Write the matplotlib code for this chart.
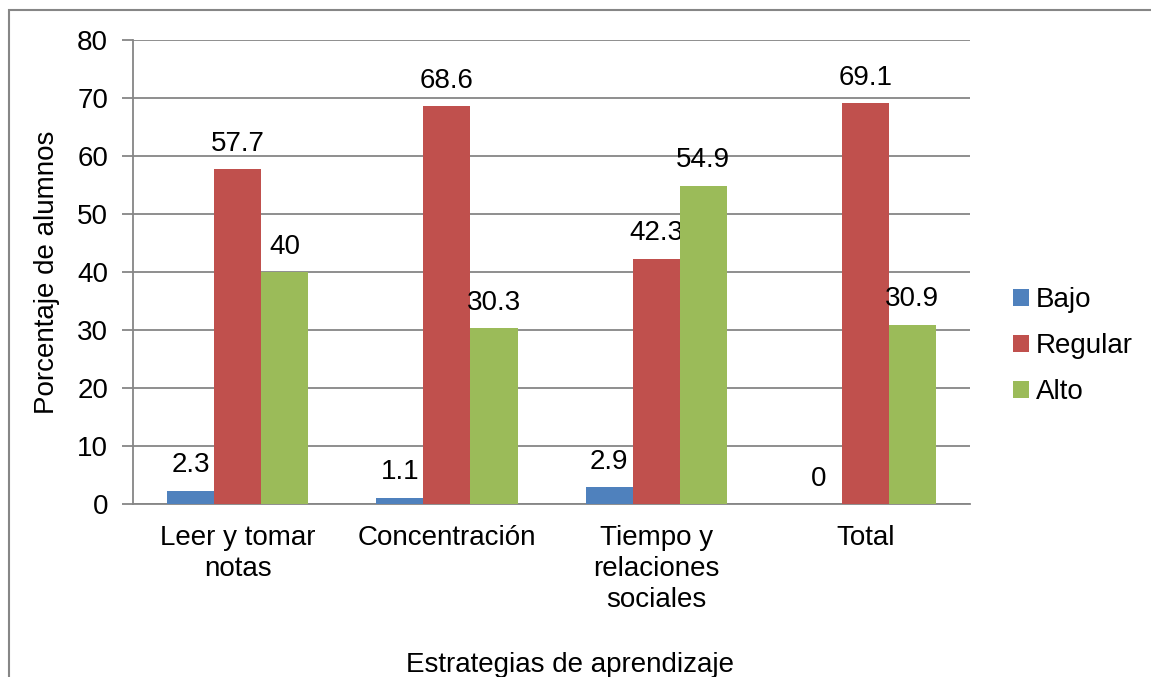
import numpy as np
import matplotlib
matplotlib.use("Agg")
import matplotlib.pyplot as plt
from matplotlib.patches import Rectangle

plt.rcParams['font.family'] = ['Liberation Sans', 'DejaVu Sans']

categories = ["Leer y tomar\nnotas", "Concentración", "Tiempo y\nrelaciones\nsociales", "Total"]
series = ["Bajo", "Regular", "Alto"]
bajo = [2.3, 1.1, 2.9, 0]
regular = [57.7, 68.6, 42.3, 69.1]
alto = [40, 30.3, 54.9, 30.9]
colors = ["#4F81BD", "#C0504D", "#9BBB59"]

fs = 20

fig = plt.figure(figsize=(11.51, 6.77), dpi=100)
ax = fig.add_axes([0.1156, 0.2555, 0.7271, 0.6854])

# outer chart border (only left/top visible in the reference)
fig.patches.append(Rectangle((0.0075, -0.1), 1.1, 1.085, transform=fig.transFigure,
                             fill=False, edgecolor="#868686", linewidth=1.5))

x = np.arange(len(categories))
w = 0.225
for i, (vals, name) in enumerate(zip([bajo, regular, alto], series)):
    pos = x + (i - 1) * w
    ax.bar(pos, vals, w, color=colors[i], label=name, zorder=3)
    for px, v in zip(pos, vals):
        ax.annotate(f"{v:g}", (px, v), xytext=(0, 9), textcoords="offset points",
                    ha="center", va="bottom", fontsize=fs)

ax.set_xlim(-0.5, 3.5)
ax.set_ylim(0, 80)
ax.set_yticks(range(0, 81, 10))
ax.yaxis.grid(True, color="#868686", linewidth=1.3, zorder=0)
ax.set_xticks(x)
ax.set_xticklabels(categories, fontsize=fs, linespacing=1.25)
ax.tick_params(axis="x", length=0, pad=15)
ax.tick_params(axis="y", labelsize=fs, length=8, color="#868686", width=1.3, pad=10)
for s in ["top", "right"]:
    ax.spines[s].set_visible(False)
for s in ["left", "bottom"]:
    ax.spines[s].set_color("#868686")
    ax.spines[s].set_linewidth(1.3)

ax.set_ylabel("Porcentaje de alumnos", fontsize=fs, labelpad=12)
fig.text(0.495, 0.018, "Estrategias de aprendizaje", ha="center", va="center", fontsize=fs)

ax.legend(loc="center left", bbox_to_anchor=(1.022, 0.34), frameon=False, fontsize=fs,
          handlelength=0.55, handleheight=0.55, handletextpad=0.25, labelspacing=0.72)

fig.savefig("out.png", dpi=100)
